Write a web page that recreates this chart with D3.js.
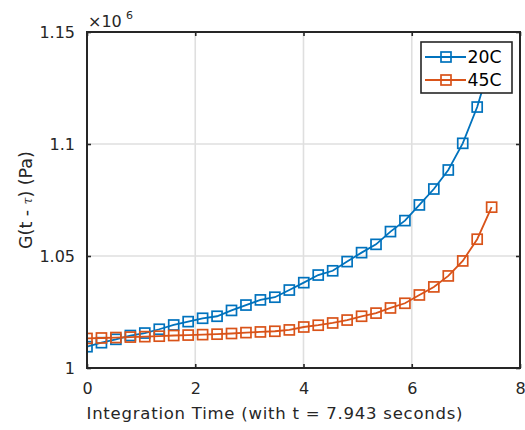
<!DOCTYPE html>
<html>
<head>
<meta charset="utf-8">
<script src="https://cdn.jsdelivr.net/npm/d3@7"></script>
<style>
  html, body { margin: 0; padding: 0; background: #fff; }
  svg { display: block; font-family: "DejaVu Sans", Verdana, sans-serif; }
</style>
</head>
<body>
<svg id="chart" width="525" height="430"></svg>
<script>
// ---- data (values in units of 1e6 Pa) ----
const seriesNames = ["20C", "45C"];
const seriesColors = ["#0072BD", "#D95319"];
const integrationTime = [0, 0.267, 0.534, 0.801, 1.068, 1.335, 1.602, 1.869, 2.136, 2.403,
  2.670, 2.937, 3.204, 3.471, 3.738, 4.005, 4.272, 4.539, 4.806, 5.073,
  5.340, 5.607, 5.874, 6.141, 6.408, 6.675, 6.942, 7.209, 7.476];
const g20C = [1.0095, 1.0113, 1.0128, 1.0145, 1.0156, 1.0173, 1.0192, 1.0207, 1.0222, 1.0231,
  1.0257, 1.0281, 1.0304, 1.0316, 1.0348, 1.0381, 1.0415, 1.0434, 1.0475, 1.0515,
  1.0552, 1.0609, 1.0658, 1.0728, 1.0799, 1.0884, 1.1003, 1.1165, 1.1380];
const g45C = [1.0132, 1.0134, 1.0136, 1.0138, 1.0140, 1.0142, 1.0145, 1.0147, 1.0149, 1.0151,
  1.0154, 1.0158, 1.0161, 1.0164, 1.0170, 1.0183, 1.0191, 1.0201, 1.0214, 1.0231,
  1.0245, 1.0268, 1.0289, 1.0326, 1.0362, 1.0411, 1.0478, 1.0575, 1.0718];
const xTicks = [0, 2, 4, 6, 8];
const yTicks = [1, 1.05, 1.1, 1.15];
const yTickLabels = ["1", "1.05", "1.1", "1.15"];
const xLabel = "Integration Time (with t = 7.943 seconds)";

// ---- layout ----
const FONT = '"DejaVu Sans", Verdana, sans-serif';
const svg = d3.select("#chart");
const L = 87, R = 520, T = 32, B = 368;
const ink = "#262626";
const x = d3.scaleLinear().domain([0, 8]).range([L, R]);
const y = d3.scaleLinear().domain([1, 1.15]).range([B, T]);

svg.append("defs").append("clipPath").attr("id", "plotclip")
  .append("rect").attr("x", L).attr("y", T).attr("width", R - L).attr("height", B - T);

// grid
const grid = svg.append("g");
grid.selectAll(".gx").data(xTicks.slice(1, -1)).join("line")
  .attr("x1", d => x(d)).attr("x2", d => x(d)).attr("y1", T).attr("y2", B)
  .attr("stroke", "#dfdfdf").attr("stroke-width", 1.6);
grid.selectAll(".gy").data(yTicks.slice(1, -1)).join("line")
  .attr("x1", L).attr("x2", R).attr("y1", d => y(d)).attr("y2", d => y(d))
  .attr("stroke", "#dfdfdf").attr("stroke-width", 1.6);

// series
const plot = svg.append("g").attr("clip-path", "url(#plotclip)");
const allSeries = [g20C, g45C];
const line = d3.line().x((d, i) => x(integrationTime[i])).y(d => y(d));
const ms = 10;
allSeries.forEach((vals, si) => {
  plot.append("path").datum(vals).attr("d", line)
    .attr("fill", "none").attr("stroke", seriesColors[si]).attr("stroke-width", 1.8);
  plot.selectAll(".m" + si).data(vals).join("rect")
    .attr("x", (d, i) => x(integrationTime[i]) - ms / 2)
    .attr("y", d => y(d) - ms / 2)
    .attr("width", ms).attr("height", ms)
    .attr("fill", "none").attr("stroke", seriesColors[si]).attr("stroke-width", 1.7);
});

// axes with inward ticks
const axB = d3.axisBottom(x).tickValues(xTicks).tickSize(-4).tickPadding(15).tickFormat(d3.format("d"));
const axT = d3.axisTop(x).tickValues(xTicks).tickSize(-4).tickFormat("");
const axLft = d3.axisLeft(y).tickValues(yTicks).tickSize(-4).tickPadding(12).tickFormat((d, i) => yTickLabels[i]);
const axRt = d3.axisRight(y).tickValues(yTicks).tickSize(-4).tickFormat("");

function styleAxis(g) {
  g.select(".domain").remove();
  g.selectAll(".tick line").attr("stroke", ink).attr("stroke-width", 1.6);
  g.selectAll(".tick text").attr("fill", ink).style("font-size", "16px").style("font-family", FONT);
}
svg.append("g").attr("transform", `translate(0,${B})`).call(axB).call(styleAxis);
svg.append("g").attr("transform", `translate(0,${T})`).call(axT).call(styleAxis);
svg.append("g").attr("transform", `translate(${L},0)`).call(axLft).call(styleAxis);
svg.append("g").attr("transform", `translate(${R},0)`).call(axRt).call(styleAxis);

// box
svg.append("rect").attr("x", L).attr("y", T).attr("width", R - L).attr("height", B - T)
  .attr("fill", "none").attr("stroke", ink).attr("stroke-width", 2);

// exponent label
svg.append("text").attr("x", 88).attr("y", 27).attr("fill", ink).style("font-size", "16px").text("×10");
svg.append("text").attr("x", 126).attr("y", 19).attr("fill", ink).style("font-size", "11px").text("6");

// x label
svg.append("text").attr("x", 86.5).attr("y", 419).attr("fill", ink)
  .style("font-size", "16.5px").attr("textLength", 376).attr("lengthAdjust", "spacing")
  .text(xLabel);

// y label
const yl = svg.append("text").attr("transform", "translate(31.5,200) rotate(-90)")
  .attr("text-anchor", "middle").attr("fill", ink).style("font-size", "17.5px");
yl.append("tspan").text("G(t -  ");
yl.append("tspan").text("τ").style("font-size", "12px").style("font-style", "italic")
  .style("font-family", '"DejaVu Serif", serif');
yl.append("tspan").text(") (Pa)");

// legend
const lg = svg.append("g");
lg.append("rect").attr("x", 421).attr("y", 42).attr("width", 91).attr("height", 51)
  .attr("fill", "#fff").attr("stroke", ink).attr("stroke-width", 1.6);
const legY = [57, 80];
seriesNames.forEach((name, i) => {
  lg.append("line").attr("x1", 425).attr("x2", 466).attr("y1", legY[i]).attr("y2", legY[i])
    .attr("stroke", seriesColors[i]).attr("stroke-width", 1.8);
  lg.append("rect").attr("x", 446 - ms / 2).attr("y", legY[i] - ms / 2).attr("width", ms).attr("height", ms)
    .attr("fill", "none").attr("stroke", seriesColors[i]).attr("stroke-width", 1.7);
  lg.append("text").attr("x", 467.5).attr("y", legY[i] + 6.3).attr("fill", "#000")
    .style("font-size", "17.3px").text(name);
});
</script>
</body>
</html>
